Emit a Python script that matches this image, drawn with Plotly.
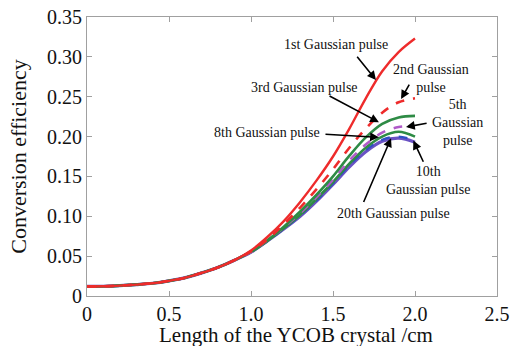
import plotly.graph_objects as go

# ---- data ----
length_cm = [0.0, 0.1, 0.2, 0.3, 0.4, 0.5, 0.6, 0.7, 0.8, 0.9, 1.0,
             1.1, 1.2, 1.3, 1.4, 1.5, 1.6, 1.7, 1.8, 1.9, 2.0]
early = [0.012, 0.0122, 0.013, 0.0143, 0.016, 0.019, 0.023, 0.029, 0.036, 0.045]

pulse1 = early + [0.057, 0.074, 0.094, 0.118, 0.145, 0.175, 0.210, 0.248, 0.282, 0.306, 0.323]
pulse2 = early + [0.056, 0.071, 0.090, 0.111, 0.134, 0.159, 0.186, 0.210, 0.230, 0.243, 0.248]
pulse3 = early + [0.056, 0.070, 0.087, 0.106, 0.127, 0.150, 0.176, 0.199, 0.216, 0.224, 0.226]
pulse5 = early + [0.055, 0.070, 0.086, 0.104, 0.124, 0.146, 0.170, 0.190, 0.205, 0.212, 0.213]
pulse8 = early + [0.055, 0.069, 0.085, 0.102, 0.122, 0.143, 0.166, 0.186, 0.200, 0.206, 0.200]
pulse10 = early + [0.055, 0.069, 0.084, 0.101, 0.120, 0.141, 0.164, 0.183, 0.196, 0.200, 0.195]
pulse20 = early + [0.055, 0.069, 0.084, 0.100, 0.119, 0.140, 0.162, 0.181, 0.194, 0.198, 0.193]

x_ticks = [0, 0.5, 1.0, 1.5, 2.0, 2.5]
x_ticktext = ["0", "0.5", "1.0", "1.5", "2.0", "2.5"]
y_ticks = [0, 0.05, 0.10, 0.15, 0.20, 0.25, 0.30, 0.35]
y_ticktext = ["0", "0.05", "0.10", "0.15", "0.20", "0.25", "0.30", "0.35"]

x_title = "Length of the YCOB crystal /cm"
y_title = "Conversion efficiency"

labels = ["1st Gaussian pulse", "2nd Gaussian<br>pulse", "3rd Gaussian pulse",
          "5th<br>Gaussian<br>pulse", "8th Gaussian pulse", "10th<br>Gaussian pulse",
          "20th Gaussian pulse"]
label_x = [1.518, 2.098, 1.329, 2.262, 1.098, 2.079, 1.866]
label_y = [0.315, 0.273, 0.262, 0.218, 0.2055, 0.145, 0.104]
arrow_tail_x = [1.64, 1.97, 1.47, 2.08, 1.445, 2.055, 1.683]
arrow_tail_y = [0.302, 0.267, 0.252, 0.217, 0.203, 0.1665, 0.116]
arrow_head_x = [1.762, 1.915, 1.78, 1.945, 1.78, 1.99, 1.854]
arrow_head_y = [0.271, 0.247, 0.218, 0.212, 0.199, 0.195, 0.198]

fig = go.Figure()

series = [
    (pulse20, "#6a52c4", "solid", 3.2),
    (pulse10, "#2f4fc4", "dash", 2.2),
    (pulse8, "#2e8b45", "solid", 2.6),
    (pulse5, "#b05ac8", "dash", 2.6),
    (pulse3, "#2e8b45", "solid", 2.6),
    (pulse2, "#ee2b2b", "dash", 2.6),
    (pulse1, "#ee2b2b", "solid", 2.4),
]
for ys, col, dash, w in series:
    fig.add_trace(go.Scatter(x=length_cm, y=ys, mode="lines",
                             line=dict(color=col, dash=dash, width=w, shape="spline"),
                             showlegend=False, hoverinfo="skip"))

font_family = "'Liberation Serif', 'Times New Roman', serif"
annotations = []
for t, lx, ly in zip(labels, label_x, label_y):
    annotations.append(dict(x=lx, y=ly, xref="x", yref="y", text=t, showarrow=False,
                            font=dict(family=font_family, size=14, color="#111")))
for tx, ty, hx, hy in zip(arrow_tail_x, arrow_tail_y, arrow_head_x, arrow_head_y):
    annotations.append(dict(x=hx, y=hy, ax=tx, ay=ty, xref="x", yref="y",
                            axref="x", ayref="y", text="", showarrow=True,
                            arrowhead=2, arrowsize=1.1, arrowwidth=1.6, arrowcolor="#000"))
annotations.append(dict(x=0.5, y=0, xref="paper", yref="paper", text=x_title,
                        showarrow=False, xanchor="center", yanchor="middle",
                        xshift=4, yshift=-39,
                        font=dict(family=font_family, size=21, color="#111")))

axis_common = dict(showline=True, linecolor="#a0a0a0", linewidth=1, mirror="ticks",
                   ticks="inside", ticklen=5, tickcolor="#a0a0a0", showgrid=False,
                   zeroline=False, automargin=False,
                   tickfont=dict(family=font_family, size=20, color="#111"))

fig.update_layout(
    width=512, height=346,
    margin=dict(l=87, r=15, t=17, b=50),
    paper_bgcolor="white", plot_bgcolor="white",
    font=dict(family=font_family),
    annotations=annotations,
    xaxis=dict(range=[0, 2.5], tickvals=x_ticks, ticktext=x_ticktext, **axis_common),
    yaxis=dict(range=[0, 0.35], tickvals=y_ticks, ticktext=y_ticktext,
               title=dict(text=y_title, standoff=14,
                          font=dict(family=font_family, size=22, color="#111")),
               **axis_common),
)

fig.write_html("out.html")
